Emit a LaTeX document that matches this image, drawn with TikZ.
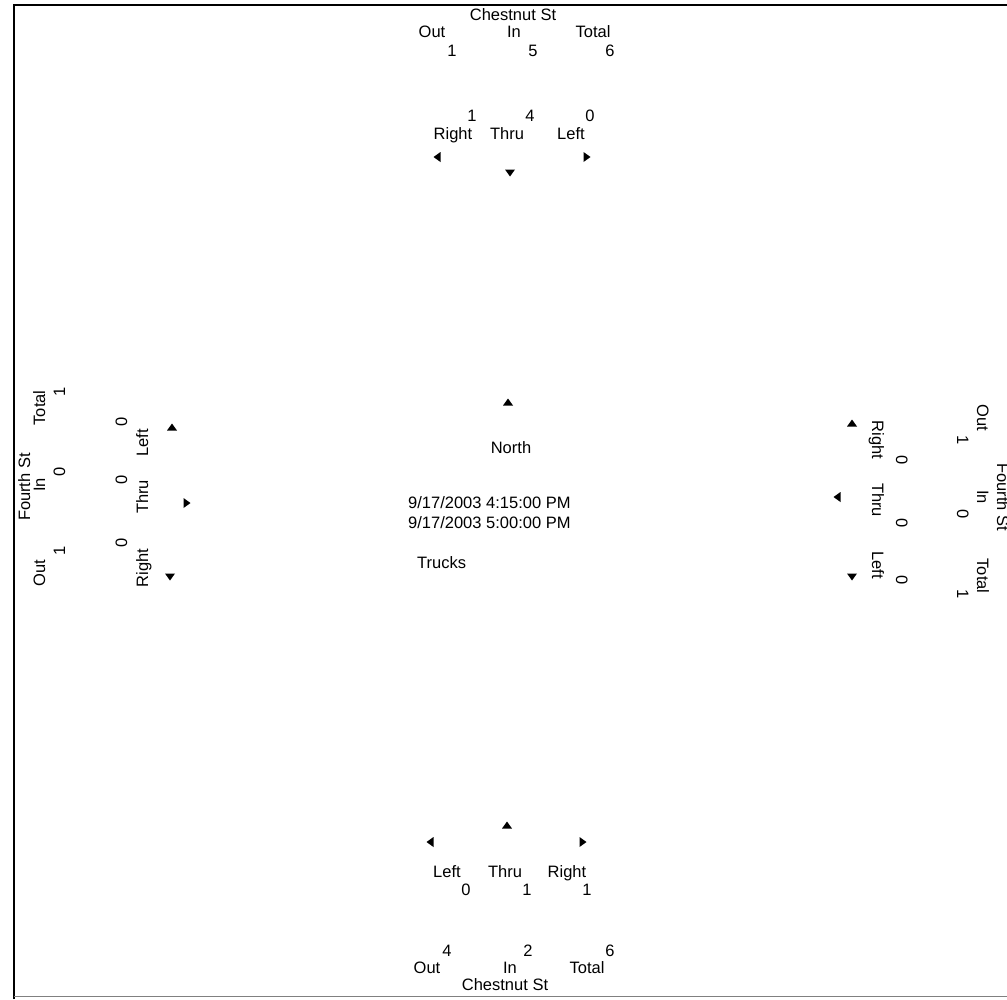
\documentclass[tikz,border=0pt]{standalone}
\usepackage{fontspec}
\setmainfont{Liberation Sans}
\usetikzlibrary{positioning}

\begin{document}
\begin{tikzpicture}[x=1pt,y=-1pt,
    lbl/.style={font=\fontsize{16.5}{18}\selectfont,inner sep=0pt,anchor=base},
    lside/.style={lbl,rotate=90},
    rside/.style={lbl,rotate=-90},
    tip/.pic={\fill (-5,3.5) -- (5,3.5) -- (0,-3.5) -- cycle;}]
    \useasboundingbox (0,0) rectangle (1007,999);
    \clip (0,0) rectangle (1007,999);

    % frame
    \draw[line width=1.5pt] (14,999) -- (14,5) -- (1007,5);
    \draw[gray,line width=0.6pt] (14,996) -- (1007,996);

    % north approach
    \node[lbl] (n-name) at (513,20) {Chestnut St};
    \node[lbl] (n-out) at (432,37) {Out};
    \node[lbl] (n-in) at (514,37) {In};
    \node[lbl] (n-total) at (593,37) {Total};
    \node[lbl] (n-outv) at (452,56) {1};
    \node[lbl] (n-inv) at (533,56) {5};
    \node[lbl] (n-totalv) at (610,56) {6};
    \node[lbl] (n-rightv) at (472,121) {1};
    \node[lbl] (n-thruv) at (530,121) {4};
    \node[lbl] (n-leftv) at (590,121) {0};
    \node[lbl] (n-right) at (453,139) {Right};
    \node[lbl] (n-thru) at (507,139) {Thru};
    \node[lbl] (n-left) at (571,139) {Left};
    \pic[rotate=90] at (437,157) {tip};
    \pic[rotate=180] at (510,173) {tip};
    \pic[rotate=-90] at (587,157) {tip};

    % centre
    \pic at (508,402) {tip};
    \node[lbl] (c-north) at (511,453) {North};
    \node[lbl,anchor=base west] (c-start) at (408,508) {9/17/2003 4:15:00 PM};
    \node[lbl,anchor=base west] (c-end) at (408,528) {9/17/2003 5:00:00 PM};
    \node[lbl,anchor=base west] (c-class) at (417,568) {Trucks};

    % west approach
    \node[lside] (w-name) at (30,487) {Fourth St};
    \node[lside] (w-total) at (45,408) {Total};
    \node[lside] (w-in) at (45,485) {In};
    \node[lside] (w-out) at (45,573) {Out};
    \node[lside] (w-totalv) at (65,392) {1};
    \node[lside] (w-inv) at (65,472) {0};
    \node[lside] (w-outv) at (65,551) {1};
    \node[lside] (w-leftv) at (127,422) {0};
    \node[lside] (w-thruv) at (127,480) {0};
    \node[lside] (w-rightv) at (127,543) {0};
    \node[lside] (w-left) at (148,443) {Left};
    \node[lside] (w-thru) at (148,497) {Thru};
    \node[lside] (w-right) at (148,568) {Right};
    \pic at (172,427) {tip};
    \pic[rotate=-90] at (187,503) {tip};
    \pic[rotate=180] at (170,577) {tip};

    % east approach
    \node[rside] (e-name) at (997,497) {Fourth St};
    \node[rside] (e-out) at (977,418) {Out};
    \node[rside] (e-in) at (977,497) {In};
    \node[rside] (e-total) at (977,576) {Total};
    \node[rside] (e-outv) at (957,440) {1};
    \node[rside] (e-inv) at (957,514) {0};
    \node[rside] (e-totalv) at (957,594) {1};
    \node[rside] (e-right) at (872,440) {Right};
    \node[rside] (e-thru) at (872,500) {Thru};
    \node[rside] (e-left) at (872,565) {Left};
    \node[rside] (e-rightv) at (896,460) {0};
    \node[rside] (e-thruv) at (896,523) {0};
    \node[rside] (e-leftv) at (896,580) {0};
    \pic at (852,423) {tip};
    \pic[rotate=90] at (837,497) {tip};
    \pic[rotate=180] at (852,577) {tip};

    % south approach
    \pic[rotate=90] at (430,842) {tip};
    \pic at (507,825) {tip};
    \pic[rotate=-90] at (583,842) {tip};
    \node[lbl] (s-left) at (447,877) {Left};
    \node[lbl] (s-thru) at (505,877) {Thru};
    \node[lbl] (s-right) at (567,877) {Right};
    \node[lbl] (s-leftv) at (466,895) {0};
    \node[lbl] (s-thruv) at (527,895) {1};
    \node[lbl] (s-rightv) at (587,895) {1};
    \node[lbl] (s-outv) at (447,956) {4};
    \node[lbl] (s-inv) at (528,956) {2};
    \node[lbl] (s-totalv) at (610,956) {6};
    \node[lbl] (s-out) at (427,973) {Out};
    \node[lbl] (s-in) at (510,973) {In};
    \node[lbl] (s-total) at (587,973) {Total};
    \node[lbl] (s-name) at (505,990) {Chestnut St};
\end{tikzpicture}
\end{document}
